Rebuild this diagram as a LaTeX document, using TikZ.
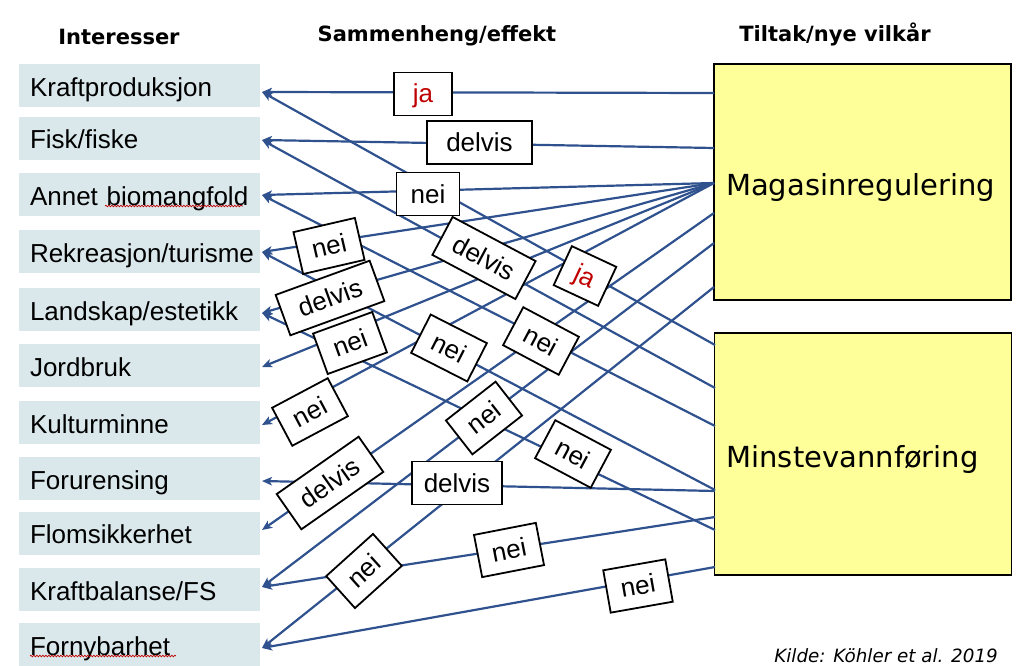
\documentclass[tikz,border=0pt]{standalone}
\usepackage{fontspec}
\setmainfont{Liberation Sans}
\newfontfamily\verd{DejaVu Sans}
\usetikzlibrary{arrows.meta,decorations.pathmorphing}
\definecolor{lineblue}{RGB}{47,82,143}
\definecolor{leftfill}{RGB}{218,232,236}
\definecolor{yel}{RGB}{255,255,153}
\definecolor{jared}{RGB}{192,0,0}
\begin{document}
\begin{tikzpicture}[x=1pt,y=-1pt,
  interest/.style={fill=leftfill, minimum width=241pt, minimum height=43pt,
    inner xsep=11pt, inner ysep=0pt, text width=219pt, align=left,
    text height=21pt, text depth=0pt, font=\fontsize{26}{30}\selectfont},
  bigbox/.style={draw=black, line width=1.3pt, fill=yel, minimum width=297pt,
    inner xsep=12pt, inner ysep=0pt, text width=273pt, align=left,
    text height=26pt, text depth=0pt, font=\verd\fontsize{29}{34}\selectfont},
  head/.style={font=\verd\bfseries\fontsize{21}{25}\selectfont, anchor=base, inner sep=0pt},
  conn/.style={draw=lineblue, line width=2.2pt, -{Stealth[length=10pt,width=8.5pt,inset=2.5pt]}},
  lab/.style={draw=black, line width=1.8pt, fill=white, minimum height=43pt,
    inner sep=0pt, text height=18pt, text depth=0pt, font=\fontsize{26}{30}\selectfont},
  labja/.style={lab, minimum width=58pt, text=jared},
  labnei/.style={lab, minimum width=63pt},
  labdelvis/.style={lab, minimum width=100pt},
  wavy/.style={draw=jared, line width=0.7pt, decorate,
    decoration={snake, amplitude=0.8pt, segment length=3pt}}
]
\useasboundingbox (0,0) rectangle (1023,666);

% headers
\node[head] (h1) at (119,45) {Interesser};
\node[head] (h2) at (437,41.5) {Sammenheng/effekt};
\node[head] (h3) at (835,41.5) {Tiltak/nye vilkår};

% interests
\node[interest] (L1)  at (139.5,86)    {Kraftproduksjon};
\node[interest] (L2)  at (139.5,138.5) {Fisk/fiske};
\node[interest] (L3)  at (139.5,194.5) {Annet biomangfold};
\node[interest] (L4)  at (139.5,251.5) {Rekreasjon/turisme};
\node[interest] (L5)  at (139.5,309.5) {Landskap/estetikk};
\node[interest] (L6)  at (139.5,365.5) {Jordbruk};
\node[interest] (L7)  at (139.5,422.5) {Kulturminne};
\node[interest] (L8)  at (139.5,478.5) {Forurensing};
\node[interest] (L9)  at (139.5,533)   {Flomsikkerhet};
\node[interest] (L10) at (139.5,589.5) {Kraftbalanse/FS};
\node[interest] (L11) at (139.5,644.5) {Fornybarhet};

% spell-check underlines
\draw[wavy] (105,206) -- (243,206);
\draw[wavy] (30,656) -- (176,656);

% measures
\node[bigbox, minimum height=236pt] (M) at (862.5,182) {Magasinregulering};
\node[bigbox, minimum height=242pt] (V) at (863,454) {Minstevannføring};

% arrow tips at interests
\coordinate (t1)  at (262,92);
\coordinate (t2)  at (262,140);
\coordinate (t3)  at (262,195);
\coordinate (t4)  at (262,252);
\coordinate (t5)  at (262,313);
\coordinate (t6)  at (262,367);
\coordinate (t7)  at (262,425);
\coordinate (t8)  at (262,481);
\coordinate (t9)  at (262,530);
\coordinate (t10) at (262,587);
\coordinate (t11) at (262,648);
% entry points on Magasinregulering
\coordinate (m1)  at (714,93);
\coordinate (m2)  at (714,148);
\coordinate (mf)  at (714,183);
\coordinate (m9)  at (714,213);
\coordinate (m10) at (714,243);
\coordinate (m11) at (714,287);
% entry points on Minstevannføring
\coordinate (v1)  at (715,345);
\coordinate (v2)  at (715,388);
\coordinate (v3)  at (715,426);
\coordinate (v4)  at (715,490);
\coordinate (v8)  at (715,491);
\coordinate (v10) at (715,517);
\coordinate (v5)  at (715,530);
\coordinate (v11) at (715,567);

% connectors from Magasinregulering
\draw[conn] (m1)  -- (t1);
\draw[conn] (m2)  -- (t2);
\draw[conn] (mf)  -- (t3);
\draw[conn] (mf)  -- (t4);
\draw[conn] (mf)  -- (t5);
\draw[conn] (mf)  -- (t6);
\draw[conn] (mf)  -- (t7);
\draw[conn] (m9)  -- (t9);
\draw[conn] (m10) -- (t10);
\draw[conn] (m11) -- (t11);
% connectors from Minstevannføring
\draw[conn] (v1)  -- (t1);
\draw[conn] (v2)  -- (t2);
\draw[conn] (v3)  -- (t3);
\draw[conn] (v4)  -- (t4);
\draw[conn] (v5)  -- (t5);
\draw[conn] (v8)  -- (t8);
\draw[conn] (v10) -- (t10);
\draw[conn] (v11) -- (t11);

% labels
\node[labja]                         (b1)  at (423,94)    {ja};
\node[labdelvis, minimum width=105pt] (b2)  at (479.5,142.5) {delvis};
\node[labnei]                        (b3)  at (428,194)   {nei};
\node[labnei, rotate=13]             (b4)  at (329,246)   {nei};
\node[labdelvis, rotate=20]          (b5)  at (330,298)   {delvis};
\node[labnei, rotate=20]             (b6)  at (350,343)   {nei};
\node[labnei, rotate=28]             (b7)  at (310,412)   {nei};
\node[labdelvis, minimum width=90pt] (b8)  at (457,483)   {delvis};
\node[labdelvis, rotate=35]          (b9)  at (330,483)   {delvis};
\node[labnei, rotate=38]             (b10) at (484,418)   {nei};
\node[labnei, rotate=11]             (b11) at (509,550)   {nei};
\node[labnei, rotate=42]             (b12) at (364,571)   {nei};
\node[labnei, rotate=10]             (b13) at (638,586)   {nei};
\node[lab, minimum width=49pt, text=jared, rotate=-25] (b14) at (585,276) {ja};
\node[labdelvis, minimum width=94pt, rotate=-28] (b15) at (484,258) {delvis};
\node[labnei, rotate=-28]            (b16) at (541,341)   {nei};
\node[labnei, rotate=-27]            (b17) at (449,348)   {nei};
\node[labnei, rotate=-28]            (b18) at (573,454)   {nei};

% source
\node[font=\verd\itshape\fontsize{18.3}{22}\selectfont, anchor=base east, inner sep=0pt] (src) at (998,662) {Kilde: Köhler et al. 2019};
\end{tikzpicture}
\end{document}
